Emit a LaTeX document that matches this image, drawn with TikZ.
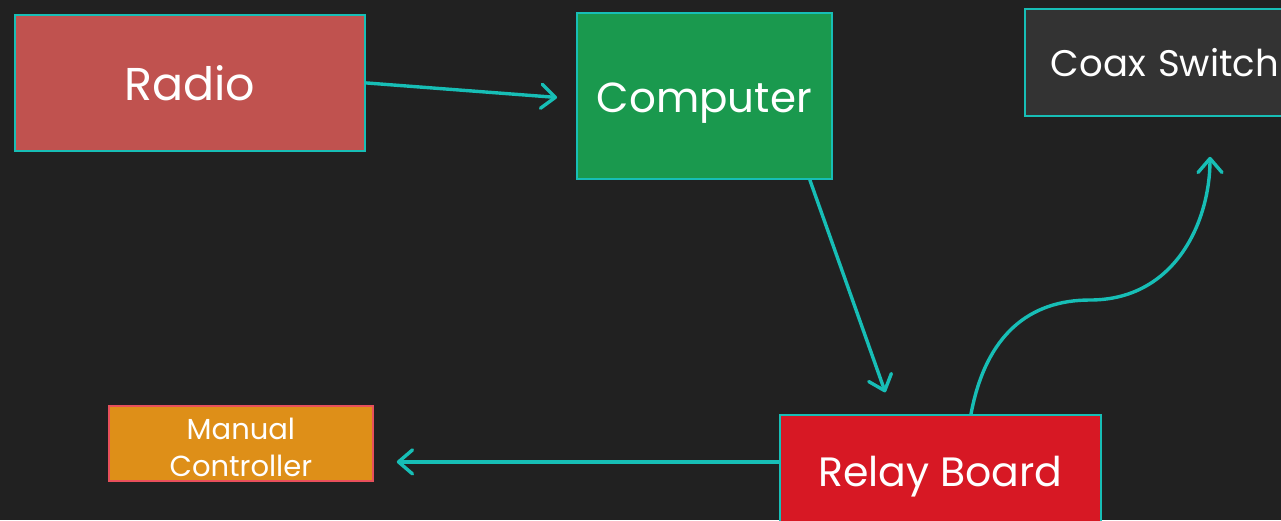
\documentclass[tikz,border=0pt]{standalone}
\usepackage{fontspec}
\setmainfont{Poppins}
\usetikzlibrary{arrows.meta}
\definecolor{bgc}{HTML}{212121}
\definecolor{tealc}{HTML}{17BEB6}
\definecolor{radioc}{HTML}{C0524F}
\definecolor{compc}{HTML}{1A994E}
\definecolor{coaxc}{HTML}{333333}
\definecolor{manc}{HTML}{DE8F18}
\definecolor{manb}{HTML}{E8505B}
\definecolor{relayc}{HTML}{D71824}
% lower a label inside its box by #1/2
\newcommand{\lowerlabel}[2]{\raisebox{0pt}[\dimexpr\height+#1\relax]{#2}}
\begin{document}
\begin{tikzpicture}[x=1pt,y=-1pt,
  box/.style={draw=tealc,line width=1.8pt,text=white,inner sep=0pt,anchor=north west,align=center},
  link/.style={draw=tealc,line width=3.4pt,line cap=round,
    -{Straight Barb[length=14pt,width=24pt,line cap=round,line join=round]}}]
\fill[bgc] (0,0) rectangle (1281,520);
\useasboundingbox (0,0) rectangle (1281,520);
\node[box,fill=radioc,minimum width=350pt,minimum height=136pt,font=\fontsize{46}{52}\selectfont]
  (radio) at (14,14) {Radio};
\node[box,fill=compc,minimum width=255pt,minimum height=166pt,font=\fontsize{42}{48}\selectfont]
  (comp) at (576,12) {\lowerlabel{14pt}{Computer}};
\node[box,fill=coaxc,minimum width=280pt,minimum height=107pt,font=\fontsize{37}{44}\selectfont,text width=272pt]
  (coax) at (1024,8) {Coax Switch};
\node[box,draw=manb,fill=manc,minimum width=264pt,minimum height=75pt,
  label={[text=white,align=center,inner sep=0pt,yshift=-4pt,font=\fontsize{29}{37}\selectfont]center:Manual\\Controller}]
  (man) at (108,405) {};
\node[box,fill=relayc,minimum width=321pt,minimum height=116pt,font=\fontsize{41}{48}\selectfont]
  (relay) at (779,414) {\lowerlabel{8pt}{Relay Board}};
% signal paths
\draw[link,shorten >=19pt] (radio.east) -- ([yshift=-3pt]comp.west);
\draw[link,shorten >=23pt] ([xshift=-23pt]comp.south east) -- ([xshift=114pt]relay.north west);
\draw[link,shorten >=23pt] ([yshift=11pt]relay.west) -- ([yshift=11pt]relay.west -| man.east);
\draw[link] ([xshift=192pt]relay.north west)
  .. controls +(15,-80) and +(-60,0) .. (1090,300)
  .. controls +(85,0) and +(0,65) .. ([xshift=186pt,yshift=-40pt]coax.south west);
\end{tikzpicture}
\end{document}
